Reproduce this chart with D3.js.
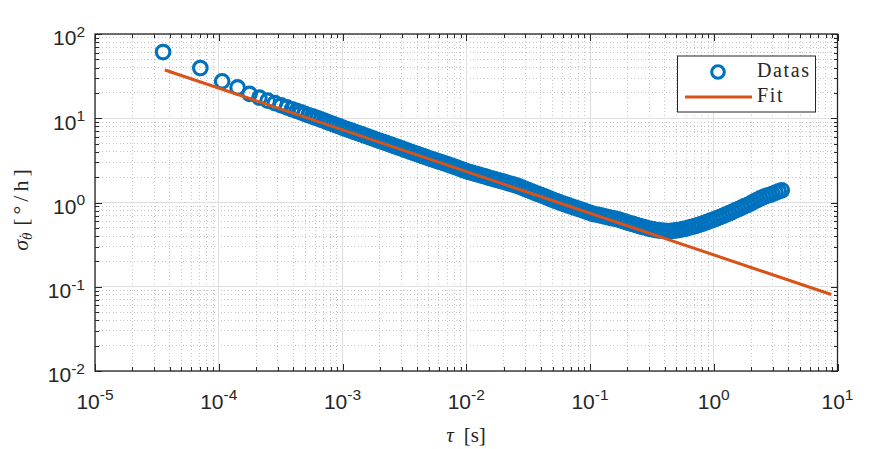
<!DOCTYPE html>
<html>
<head>
<meta charset="utf-8">
<script src="https://cdn.jsdelivr.net/npm/d3@7"></script>
<style>
body { margin: 0; background: #fff; }
svg { display: block; }
.tick-label { font-family: "Liberation Sans", Arial, sans-serif; fill: #262626; }
.latex { font-family: "Liberation Serif", "Times New Roman", serif; fill: #262626; }
</style>
</head>
<body>
<svg id="chart" width="886" height="449"></svg>
<script>
// allan deviation points
var tau = [
  3.55e-5, 7.10e-5, 1.065e-4, 1.42e-4, 1.775e-4, 2.13e-4, 2.485e-4, 2.84e-4,
  3.195e-4, 3.55e-4, 3.905e-4, 4.26e-4, 4.615e-4, 4.97e-4, 5.325e-4, 5.68e-4,
  5.957e-4, 6.310e-4, 6.683e-4, 7.079e-4, 7.499e-4, 7.943e-4, 8.414e-4, 8.913e-4, 9.441e-4,
  1.000e-3, 1.059e-3, 1.122e-3, 1.189e-3, 1.259e-3, 1.334e-3, 1.413e-3, 1.496e-3, 1.585e-3, 1.679e-3,
  1.778e-3, 1.884e-3, 1.995e-3, 2.113e-3, 2.239e-3, 2.371e-3, 2.512e-3, 2.661e-3, 2.818e-3, 2.985e-3,
  3.162e-3, 3.350e-3, 3.548e-3, 3.758e-3, 3.981e-3, 4.217e-3, 4.467e-3, 4.732e-3, 5.012e-3, 5.309e-3,
  5.623e-3, 5.957e-3, 6.310e-3, 6.683e-3, 7.079e-3, 7.499e-3, 7.943e-3, 8.414e-3, 8.913e-3, 9.441e-3,
  1.000e-2, 1.059e-2, 1.122e-2, 1.189e-2, 1.259e-2, 1.334e-2, 1.413e-2, 1.496e-2, 1.585e-2, 1.679e-2,
  1.778e-2, 1.884e-2, 1.995e-2, 2.113e-2, 2.239e-2, 2.371e-2, 2.512e-2, 2.661e-2, 2.818e-2, 2.985e-2,
  3.162e-2, 3.350e-2, 3.548e-2, 3.758e-2, 3.981e-2, 4.217e-2, 4.467e-2, 4.732e-2, 5.012e-2, 5.309e-2,
  5.623e-2, 5.957e-2, 6.310e-2, 6.683e-2, 7.079e-2, 7.499e-2, 7.943e-2, 8.414e-2, 8.913e-2, 9.441e-2,
  1.000e-1, 1.059e-1, 1.122e-1, 1.189e-1, 1.259e-1, 1.334e-1, 1.413e-1, 1.496e-1, 1.585e-1, 1.679e-1,
  1.778e-1, 1.884e-1, 1.995e-1, 2.113e-1, 2.239e-1, 2.371e-1, 2.512e-1, 2.661e-1, 2.818e-1, 2.985e-1,
  3.162e-1, 3.350e-1, 3.548e-1, 3.758e-1, 3.981e-1, 4.217e-1, 4.467e-1, 4.732e-1, 5.012e-1, 5.309e-1,
  5.623e-1, 5.957e-1, 6.310e-1, 6.683e-1, 7.079e-1, 7.499e-1, 7.943e-1, 8.414e-1, 8.913e-1, 9.441e-1,
  1.000, 1.059, 1.122, 1.189, 1.259, 1.334, 1.413, 1.496, 1.585, 1.679,
  1.778, 1.884, 1.995, 2.113, 2.239, 2.371, 2.512, 2.661, 2.818, 2.985,
  3.162, 3.350, 3.548
];
var sigma = [
  61.1, 39.5, 27.4, 23.2, 19.45, 17.54, 16.16, 15.09,
  14.20, 13.44, 12.79, 12.22, 11.72, 11.27, 10.86, 10.51,
  10.27, 9.95, 9.65, 9.35, 9.06, 8.78, 8.51, 8.24, 7.99,
  7.74, 7.51, 7.29, 7.07, 6.86, 6.66, 6.47, 6.27, 6.09, 5.91,
  5.73, 5.56, 5.40, 5.24, 5.09, 4.94, 4.79, 4.65, 4.51, 4.38,
  4.25, 4.12, 4.00, 3.89, 3.77, 3.66, 3.55, 3.45, 3.35, 3.26,
  3.17, 3.08, 2.99, 2.91, 2.83, 2.75, 2.67, 2.59, 2.51, 2.44,
  2.36, 2.30, 2.25, 2.19, 2.14, 2.09, 2.04, 1.99, 1.94, 1.90,
  1.85, 1.81, 1.77, 1.72, 1.68, 1.64, 1.60, 1.55, 1.50, 1.45,
  1.40, 1.36, 1.31, 1.27, 1.23, 1.19, 1.15, 1.11, 1.077, 1.042,
  1.008, 0.975, 0.948, 0.922, 0.896, 0.871, 0.846, 0.823, 0.800, 0.777,
  0.755, 0.734, 0.720, 0.707, 0.693, 0.680, 0.667, 0.654, 0.642, 0.630,
  0.615, 0.598, 0.582, 0.566, 0.553, 0.539, 0.525, 0.513, 0.502, 0.491,
  0.482, 0.474, 0.468, 0.463, 0.460, 0.459, 0.459, 0.463, 0.468, 0.474,
  0.482, 0.491, 0.502, 0.513, 0.526, 0.541, 0.556, 0.573, 0.590, 0.608,
  0.628, 0.649, 0.669, 0.693, 0.720, 0.746, 0.775, 0.806, 0.837, 0.870,
  0.904, 0.939, 0.976, 1.028, 1.071, 1.119, 1.159, 1.198, 1.227, 1.268,
  1.311, 1.355, 1.396
];

// fitted line end points
var fitTau = [3.67e-5, 8.9];
var fitSigma = [37.4, 0.081];

// major ticks and their exponents
var xTicks = [1e-5, 1e-4, 1e-3, 1e-2, 1e-1, 1e0, 1e1];
var xExp = ["-5", "-4", "-3", "-2", "-1", "0", "1"];
var yTicks = [1e-2, 1e-1, 1e0, 1e1, 1e2];
var yExp = ["-2", "-1", "0", "1", "2"];

var legendLabels = ["Datas", "Fit"];

var blue = "#0072BD", orange = "#D95319", axisColor = "#262626";
var plot = { left: 95, right: 837.5, top: 34, bottom: 371 };
var markerR = 6.8, markerW = 3.1;

var svg = d3.select("#chart");

var x = d3.scaleLog().domain([1e-5, 10]).range([plot.left, plot.right]);
var y = d3.scaleLog().domain([1e-2, 1e2]).range([plot.bottom, plot.top]);

// log scale gives 1..9 per decade, keep the non powers of ten
var isPow = function(v) { return Math.abs(Math.log10(v) - Math.round(Math.log10(v))) < 1e-6; };
var xMinor = x.ticks().filter(function(v) { return !isPow(v); });
var yMinor = y.ticks().filter(function(v) { return !isPow(v); });

//grid
var grid = svg.append("g").attr("shape-rendering", "crispEdges");
grid.selectAll(".xminor").data(xMinor).enter().append("line")
  .attr("x1", function(d) { return x(d); }).attr("x2", function(d) { return x(d); })
  .attr("y1", plot.top).attr("y2", plot.bottom)
  .attr("stroke", "#c4c4c4").attr("stroke-dasharray", "1,2.5");
grid.selectAll(".yminor").data(yMinor).enter().append("line")
  .attr("y1", function(d) { return y(d); }).attr("y2", function(d) { return y(d); })
  .attr("x1", plot.left).attr("x2", plot.right)
  .attr("stroke", "#c4c4c4").attr("stroke-dasharray", "1,2.5");
grid.selectAll(".xmajor").data(xTicks).enter().append("line")
  .attr("x1", function(d) { return x(d); }).attr("x2", function(d) { return x(d); })
  .attr("y1", plot.top).attr("y2", plot.bottom)
  .attr("stroke", "#dedede");
grid.selectAll(".ymajor").data(yTicks).enter().append("line")
  .attr("y1", function(d) { return y(d); }).attr("y2", function(d) { return y(d); })
  .attr("x1", plot.left).attr("x2", plot.right)
  .attr("stroke", "#dedede");

//data circles
var pts = tau.map(function(t, i) { return { t: t, s: sigma[i] }; });
svg.append("g").selectAll("circle").data(pts).enter().append("circle")
  .attr("cx", function(d) { return x(d.t); })
  .attr("cy", function(d) { return y(d.s); })
  .attr("r", markerR)
  .attr("fill", "none")
  .attr("stroke", blue)
  .attr("stroke-width", markerW);

//fit line
var fit = fitTau.map(function(t, i) { return { t: t, s: fitSigma[i] }; });
svg.append("path").datum(fit)
  .attr("d", d3.line().x(function(d) { return x(d.t); }).y(function(d) { return y(d.s); }))
  .attr("stroke", orange).attr("stroke-width", 3).attr("fill", "none");

//ticks pointing inwards on all four sides
var addAxis = function(axis, tx, ty) {
  svg.append("g").attr("transform", "translate(" + tx + "," + ty + ")")
    .attr("color", axisColor).attr("shape-rendering", "crispEdges")
    .call(axis)
    .call(function(g) { g.select(".domain").remove(); });
};
addAxis(d3.axisBottom(x).tickValues(xTicks).tickSize(-7).tickFormat(""), 0, plot.bottom);
addAxis(d3.axisBottom(x).tickValues(xMinor).tickSize(-4).tickFormat(""), 0, plot.bottom);
addAxis(d3.axisTop(x).tickValues(xTicks).tickSize(-7).tickFormat(""), 0, plot.top);
addAxis(d3.axisTop(x).tickValues(xMinor).tickSize(-4).tickFormat(""), 0, plot.top);
addAxis(d3.axisLeft(y).tickValues(yTicks).tickSize(-7).tickFormat(""), plot.left, 0);
addAxis(d3.axisLeft(y).tickValues(yMinor).tickSize(-4).tickFormat(""), plot.left, 0);
addAxis(d3.axisRight(y).tickValues(yTicks).tickSize(-7).tickFormat(""), plot.right, 0);
addAxis(d3.axisRight(y).tickValues(yMinor).tickSize(-4).tickFormat(""), plot.right, 0);

//box
svg.append("rect")
  .attr("x", plot.left).attr("y", plot.top)
  .attr("width", plot.right - plot.left).attr("height", plot.bottom - plot.top)
  .attr("fill", "none").attr("stroke", axisColor).attr("stroke-width", 1.3);

//tick labels as 10^n
var xl = svg.append("g").selectAll("text").data(xTicks).enter().append("text")
  .attr("class", "tick-label")
  .attr("x", function(d) { return x(d); })
  .attr("y", 409)
  .attr("text-anchor", "middle")
  .style("font-size", "21px");
xl.append("tspan").style("font-size", "21px").text("10");
xl.append("tspan").style("font-size", "15.5px").attr("dy", -9).text(function(d, i) { return xExp[i]; });

var yl = svg.append("g").selectAll("text").data(yTicks).enter().append("text")
  .attr("class", "tick-label")
  .attr("x", 85)
  .attr("y", function(d) { return y(d) + 11.3; })
  .attr("text-anchor", "end")
  .style("font-size", "21px");
yl.append("tspan").style("font-size", "21px").text("10");
yl.append("tspan").style("font-size", "15.5px").attr("dy", -8.5).text(function(d, i) { return yExp[i]; });

//axis labels
var xLab = svg.append("text").attr("class", "latex")
  .attr("x", 466).attr("y", 442).attr("text-anchor", "middle")
  .style("font-size", "21px");
xLab.append("tspan").attr("font-style", "italic").text("τ");
xLab.append("tspan").attr("dx", 10).text("[s]");

// sigma with a dotted theta below, then the unit
var yLab = svg.append("text").attr("class", "latex")
  .attr("transform", "translate(28,208) rotate(-90)")
  .attr("text-anchor", "middle")
  .style("font-size", "22px");
yLab.append("tspan").attr("font-style", "italic").text("σ");
yLab.append("tspan").attr("font-style", "italic").style("font-size", "15px").attr("dy", 4).text("θ");
yLab.append("tspan").style("font-size", "15px").attr("dx", -6.2).attr("dy", -3).text("\u02D9");
yLab.append("tspan").attr("dy", -1).attr("dx", 8).style("letter-spacing", "4px").text("[°/h]");

//legend
var lg = svg.append("g");
lg.append("rect").attr("x", 677.5).attr("y", 56).attr("width", 138).attr("height", 56)
  .attr("fill", "#fff").attr("stroke", axisColor).attr("stroke-width", 1);
lg.append("circle").attr("cx", 718).attr("cy", 72).attr("r", 6.3)
  .attr("fill", "none").attr("stroke", blue).attr("stroke-width", markerW);
lg.append("line").attr("x1", 685).attr("x2", 752).attr("y1", 97).attr("y2", 97)
  .attr("stroke", orange).attr("stroke-width", 3);
lg.selectAll(".lt").data(legendLabels).enter().append("text")
  .attr("class", "latex")
  .attr("x", 757)
  .attr("y", function(d, i) { return 77 + i * 25; })
  .style("font-size", "20px")
  .style("letter-spacing", "1.6px")
  .text(function(d) { return d; });
</script>
</body>
</html>
